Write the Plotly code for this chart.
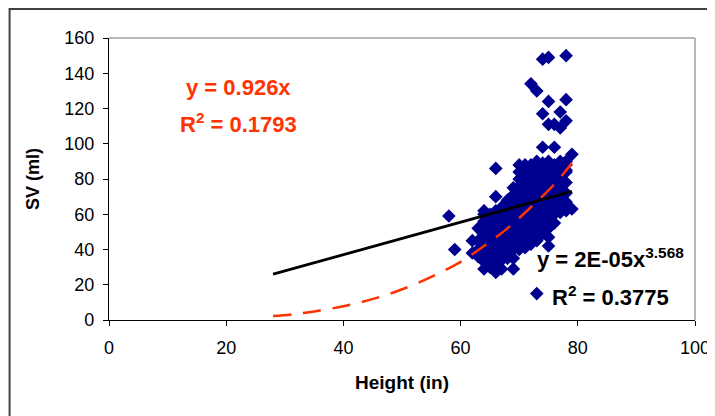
import plotly.graph_objects as go

# ---- data ----
height_in = [58, 59, 62, 62,
             63, 63, 63, 63,
             64, 64, 64, 64, 64, 64, 64, 64, 64, 64, 64,
             65, 65, 65, 65, 65, 65, 65, 65, 65, 65, 65,
             66, 66, 66, 66, 66, 66, 66, 66, 66, 66, 66, 66, 66,
             67, 67, 67, 67, 67, 67, 67, 67, 67, 67, 67, 67,
             68, 68, 68, 68, 68, 68, 68, 68, 68, 68, 68, 68,
             69, 69, 69, 69, 69, 69, 69, 69, 69, 69, 69, 69, 69,
             70, 70, 70, 70, 70, 70, 70, 70, 70, 70, 70, 70, 70, 70, 70,
             71, 71, 71, 71, 71, 71, 71, 71, 71, 71, 71, 71, 71, 71, 71,
             72, 72, 72, 72, 72, 72, 72, 72, 72, 72, 72, 72, 72, 72, 72, 72,
             73, 73, 73, 73, 73, 73, 73, 73, 73, 73, 73, 73, 73, 73, 73, 73,
             74, 74, 74, 74, 74, 74, 74, 74, 74, 74, 74, 74, 74, 74, 74, 74,
             75, 75, 75, 75, 75, 75, 75, 75, 75, 75, 75, 75, 75, 75, 75, 75, 75,
             76, 76, 76, 76, 76, 76, 76, 76, 76, 76, 76, 76,
             77, 77, 77, 77, 77, 77, 77, 77, 77, 77, 77,
             78, 78, 78, 78, 78, 78, 78, 78, 78, 78, 78,
             79, 79]
sv_ml = [59, 40, 45, 38,
         45, 40, 52, 36,
         29, 36, 40, 44, 48, 52, 56, 60, 62, 33, 46,
         30, 35, 38, 42, 46, 50, 54, 57, 60, 44, 40,
         27, 32, 36, 40, 44, 48, 52, 55, 58, 62, 70, 86, 46,
         29, 34, 38, 42, 45, 49, 53, 56, 60, 64, 47, 51,
         35, 39, 43, 47, 50, 54, 57, 61, 65, 68, 45, 52,
         29, 35, 40, 44, 48, 52, 56, 60, 63, 67, 71, 75, 50,
         40, 44, 48, 52, 56, 60, 64, 68, 72, 76, 80, 84, 88, 58, 62,
         41, 45, 49, 53, 57, 61, 65, 69, 73, 77, 81, 85, 88, 55, 70,
         43, 47, 51, 55, 59, 63, 67, 71, 75, 79, 83, 86, 88, 134, 65, 73,
         15, 45, 50, 54, 58, 62, 66, 70, 74, 78, 82, 86, 90, 130, 68, 60,
         49, 53, 57, 61, 65, 69, 73, 77, 81, 85, 89, 98, 117, 148, 70, 63,
         42, 47, 52, 56, 60, 64, 68, 72, 76, 80, 84, 88, 90, 111, 124, 149, 78,
         55, 60, 64, 68, 72, 76, 80, 84, 88, 98, 111, 70,
         61, 66, 70, 74, 78, 82, 86, 90, 109, 118, 84,
         62, 67, 72, 78, 84, 88, 90, 113, 125, 150, 85,
         63, 94]

# linear trend line (black), endpoints
lin_x = [28, 79]
lin_y = [26, 73]

# power trend line (red dashed)
pow_x = [28, 32, 36, 40, 44, 48, 52, 56, 60, 64, 68, 72, 76, 79]
pow_y = [2.2, 3.5, 5.4, 7.8, 11, 15, 20, 26, 33, 42, 52, 64, 77, 89]

x_ticks = [0, 20, 40, 60, 80, 100]
y_ticks = [0, 20, 40, 60, 80, 100, 120, 140, 160]

# page body has an 8px default margin -> figure is offset by 8px
OFF = 8
W, H = 715 - OFF, 416 - OFF
# plot area in screen pixels
SL, SR, ST, SB = 108.5, 695.0, 38.0, 320.5
L, T = SL - OFF, ST - OFF
R = W - (SR - OFF)
B = H - (SB - OFF)
pw, ph = W - L - R, H - T - B

FONT = "Liberation Sans, Arial, sans-serif"
RED = "#FF3300"
BLUE = "#000090"

fig = go.Figure()
fig.add_trace(go.Scatter(x=height_in, y=sv_ml, mode="markers",
                         marker=dict(symbol="diamond", size=10.5, color=BLUE,
                                     line=dict(width=0)),
                         showlegend=False, hoverinfo="skip"))
fig.add_trace(go.Scatter(x=pow_x, y=pow_y, mode="lines",
                         line=dict(color=RED, width=2.5, dash="18px,12px", shape="spline"),
                         showlegend=False))
fig.add_trace(go.Scatter(x=lin_x, y=lin_y, mode="lines",
                         line=dict(color="black", width=2.8),
                         showlegend=False))


def sx(px):
    # screen x pixel -> paper coordinate
    return (px - SL) / pw


def sy(py):
    # screen y pixel -> paper coordinate
    return (SB - py) / ph


annotations = [
    dict(text="<b>y = 0.926x</b>", x=sx(238), y=sy(88), xref="paper", yref="paper",
         showarrow=False, font=dict(family=FONT, size=22, color=RED), xanchor="center", yanchor="middle"),
    dict(text="<b>R<sup>2</sup> = 0.1793</b>", x=sx(238), y=sy(123), xref="paper", yref="paper",
         showarrow=False, font=dict(family=FONT, size=22, color=RED), xanchor="center", yanchor="middle"),
    dict(text="<b>y = 2E-05x<sup>3.568</sup></b>", x=sx(535), y=sy(258), xref="paper", yref="paper",
         showarrow=False, font=dict(family=FONT, size=22, color="black"), xanchor="left", yanchor="middle"),
    dict(text="<b>R<sup>2</sup> = 0.3775</b>", x=sx(550), y=sy(296), xref="paper", yref="paper",
         showarrow=False, font=dict(family=FONT, size=22, color="black"), xanchor="left", yanchor="middle"),
]

shapes = [
    # outer chart frame
    dict(type="rect", xref="paper", yref="paper",
         x0=sx(9), x1=sx(760), y0=sy(460), y1=sy(9),
         line=dict(color="#404040", width=2), fillcolor="rgba(0,0,0,0)", layer="below"),
    # plot area top/right gray border
    dict(type="line", xref="paper", yref="paper", x0=0, x1=1, y0=1, y1=1,
         line=dict(color="#A0A0A0", width=1.5)),
    dict(type="line", xref="paper", yref="paper", x0=1, x1=1, y0=0, y1=1,
         line=dict(color="#A0A0A0", width=1.5)),
]

fig.update_layout(
    width=W, height=H,
    margin=dict(l=L, r=R, t=T, b=B, pad=0, autoexpand=False),
    paper_bgcolor="white", plot_bgcolor="white",
    font=dict(family=FONT, size=18, color="black"),
    annotations=annotations, shapes=shapes,
    xaxis=dict(range=[0, 100], tickvals=x_ticks, ticks="outside", ticklen=5, tickwidth=1.2,
               tickcolor="black", showline=True, linecolor="black", linewidth=1.2,
               showgrid=False, zeroline=False, automargin=False, ticklabelstandoff=6,
               title=dict(text="<b>Height (in)</b>", font=dict(family=FONT, size=19), standoff=18),
               tickfont=dict(family=FONT, size=18)),
    yaxis=dict(range=[0, 160], tickvals=y_ticks, ticks="outside", ticklen=5, tickwidth=1.2,
               tickcolor="black", showline=True, linecolor="black", linewidth=1.2,
               showgrid=False, zeroline=False, automargin=False, ticklabelstandoff=5,
               title=dict(text="<b>SV (ml)</b>", font=dict(family=FONT, size=18), standoff=19),
               tickfont=dict(family=FONT, size=18)),
)

fig.write_html("out.html")
